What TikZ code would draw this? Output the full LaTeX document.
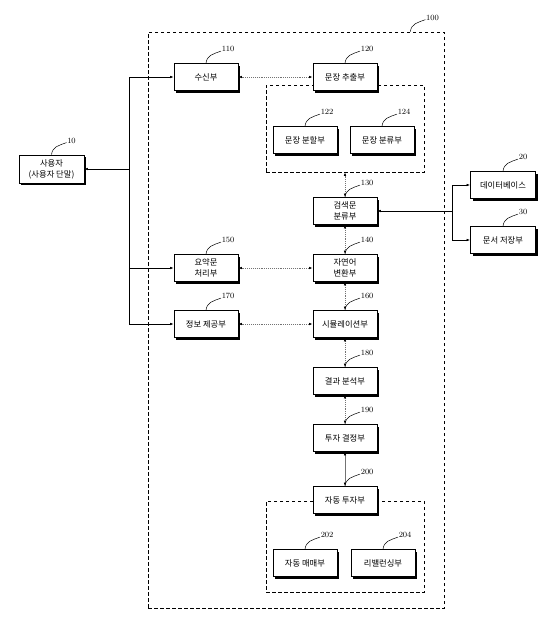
\documentclass[tikz,border=0pt]{standalone}
\usepackage{fontspec}
\newfontfamily\kr{Noto Sans CJK KR}
\usetikzlibrary{arrows.meta,shadows}

% reference numeral with its wavy leader
\newcommand{\refnum}[2]{%
  \draw[lead] (#1) .. controls +(1,-8) and +(-8,3) .. ++(15,-12) node[num] {#2};}

\begin{document}
\begin{tikzpicture}[x=1pt,y=-1pt,
    >={Latex[length=3.5pt,width=2.6pt,color=black]},
    unit/.style={draw, fill=white, line width=0.8pt, align=center,
      minimum width=64pt, minimum height=27pt, inner sep=1pt,
      font=\kr\fontsize{8.3}{11}\selectfont,
      drop shadow={shadow xshift=2pt, shadow yshift=-2pt, opacity=1, fill=black}},
    group/.style={draw, line width=0.7pt, dash pattern=on 3.5pt off 2.5pt, inner sep=0pt},
    wire/.style={line width=0.6pt},
    dot/.style={densely dotted, line width=0.9pt, black!55},
    lead/.style={line width=0.5pt},
    num/.style={anchor=west, inner sep=0.5pt, yshift=2pt, font=\fontsize{8}{9}\selectfont}]

  \useasboundingbox (0,0) rectangle (558,641);

  % Dashed frames
  \node[group, minimum width=296pt, minimum height=576pt] (sys100) at (296,320) {};
  \node[group, minimum width=158pt, minimum height=87pt] (grp120) at (345,128.5) {};
  \node[group, minimum width=158pt, minimum height=91pt] (grp200) at (345,546.5) {};

  % Outside units
  \node[unit, minimum width=65pt, minimum height=28pt] (user) at (51.5,169) {사용자\\(사용자 단말)};
  \node[unit, minimum width=65pt] (db)   at (503,185) {데이터베이스};
  \node[unit, minimum width=65pt] (docs) at (503,240) {문서 저장부};

  % Units of the system
  \node[unit] (recv)  at (206,77)  {수신부};
  \node[unit] (extr)  at (345,77)  {문장 추출부};
  \node[unit] (split) at (305,140) {문장 분할부};
  \node[unit] (sort)  at (382,140) {문장 분류부};
  \node[unit] (query) at (345,211) {검색문\\분류부};
  \node[unit] (nlp)   at (345,268) {자연어\\변환부};
  \node[unit] (summ)  at (206,268) {요약문\\처리부};
  \node[unit] (simul) at (345,324) {시뮬레이션부};
  \node[unit] (info)  at (206,324) {정보 제공부};
  \node[unit] (anal)  at (345,381) {결과 분석부};
  \node[unit] (decide) at (345,438) {투자 결정부};
  \node[unit] (auto)  at (345,500) {자동 투자부};
  \node[unit] (trade) at (305,563) {자동 매매부};
  \node[unit] (rebal) at (383,563) {리밸런싱부};

  % Buses
  \coordinate (busL) at (129,169);
  \coordinate (busR) at (452,211);

  \draw[wire,->] (busL) -- (user.east);
  \draw[wire,->] (busL) |- (recv.west);
  \draw[wire,->] (busL) |- (summ.west);
  \draw[wire,->] (busL) |- (info.west);

  \draw[wire,->] (busR) -- (query.east);
  \draw[wire,->] (busR) |- (db.west);
  \draw[wire,->] (busR) |- (docs.west);

  % Internal links
  \draw[dot,<->] (recv) -- (extr);
  \draw[dot,<->] (grp120.south) -- (query.north);
  \draw[dot,<->] (query) -- (nlp);
  \draw[dot,<->] (summ) -- (nlp);
  \draw[dot,<->] (nlp) -- (simul);
  \draw[dot,<->] (info) -- (simul);
  \draw[dot,<->] (simul) -- (anal);
  \draw[dot,<->] (anal) -- (decide);
  \draw[line width=0.6pt, black!55, <->] (decide) -- (auto);

  % Reference numerals
  \refnum{[xshift=-34pt]sys100.north east}{100}
  \refnum{user.north}{10}
  \refnum{db.north}{20}
  \refnum{docs.north}{30}
  \refnum{recv.north}{110}
  \refnum{extr.north}{120}
  \refnum{split.north}{122}
  \refnum{sort.north}{124}
  \refnum{query.north}{130}
  \refnum{nlp.north}{140}
  \refnum{summ.north}{150}
  \refnum{simul.north}{160}
  \refnum{info.north}{170}
  \refnum{anal.north}{180}
  \refnum{decide.north}{190}
  \refnum{auto.north}{200}
  \refnum{trade.north}{202}
  \refnum{rebal.north}{204}
\end{tikzpicture}
\end{document}
